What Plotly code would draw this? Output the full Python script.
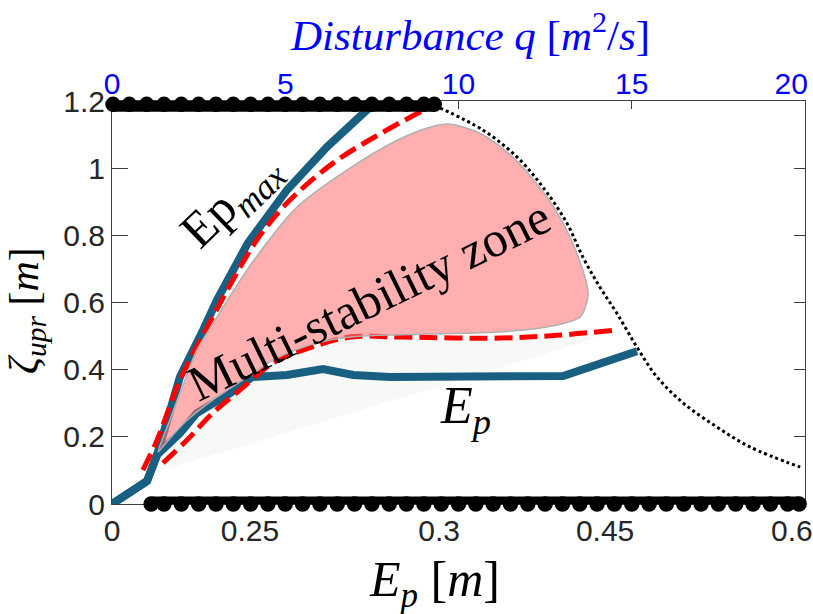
import plotly.graph_objects as go

# Horizontal coordinate: disturbance q [m^2/s]; vertical: zeta_upr [m]

# Upper limit branch Ep_max
epmax_q = [0.0, 1.01, 1.30, 1.96, 2.63, 3.03, 3.92, 5.05, 6.20, 7.36, 7.88]
epmax_z = [0.0, 0.068, 0.146, 0.378, 0.518, 0.607, 0.777, 0.935, 1.063, 1.173, 1.223]

# Lower branch Ep
ep_q = [0.0, 1.01, 1.30, 1.96, 2.45, 3.41, 4.04, 5.05, 6.09, 6.96, 8.02, 13.02, 15.15]
ep_z = [0.0, 0.068, 0.146, 0.211, 0.271, 0.330, 0.378, 0.384, 0.402, 0.384, 0.378, 0.381, 0.455]

# Red dashed bounds of the multi-stability region
red_up_q = [0.89, 1.30, 1.96, 2.83, 3.49, 4.18, 5.05, 6.38, 7.82, 8.89, 9.38]
red_up_z = [0.101, 0.190, 0.369, 0.542, 0.667, 0.786, 0.896, 1.015, 1.107, 1.167, 1.193]
red_lo_q = [1.47, 2.16, 2.91, 3.69, 4.65, 5.51, 6.87, 8.31, 11.2, 12.93, 14.57]
red_lo_z = [0.122, 0.190, 0.271, 0.339, 0.420, 0.458, 0.497, 0.497, 0.494, 0.503, 0.518]

# Dotted envelope
env_q = [9.47, 10.71, 11.69, 12.44, 13.13, 13.59, 14.08, 14.57, 15.15, 15.73, 16.48, 17.46, 18.41, 19.86]
env_z = [1.179, 1.113, 1.033, 0.943, 0.836, 0.735, 0.646, 0.568, 0.467, 0.378, 0.301, 0.229, 0.170, 0.110]

# Multi-stability zone outline
zone_q = [1.33, 1.67, 2.05, 2.45, 2.89, 3.46, 4.18, 5.34, 6.78, 8.23, 9.18, 9.75, 10.62, 11.57,
          12.55, 13.22, 13.65, 13.74, 13.51, 12.55, 11.11, 9.18, 7.24, 6.29, 5.34, 4.65, 3.90,
          2.91, 2.11, 1.56, 1.33]
zone_z = [0.155, 0.250, 0.354, 0.458, 0.533, 0.628, 0.738, 0.884, 0.994, 1.083, 1.122, 1.131,
          1.104, 1.033, 0.914, 0.795, 0.676, 0.622, 0.557, 0.527, 0.512, 0.506, 0.500, 0.488,
          0.461, 0.429, 0.378, 0.310, 0.244, 0.182, 0.155]

# Faint shaded band under the lower bound
band_q = [1.10, 1.47, 2.16, 2.91, 3.69, 4.65, 5.51, 6.87, 8.31, 11.2, 12.93, 14.1, 1.10]
band_z = [0.089, 0.122, 0.190, 0.271, 0.339, 0.420, 0.458, 0.497, 0.497, 0.494, 0.503, 0.497, 0.089]

# Stable states (upper and lower)
top_q = [0.03, 0.5, 1.0, 1.5, 2.0, 2.5, 3.0, 3.5, 4.0, 4.5, 5.0, 5.5, 6.0, 6.5, 7.0, 7.5,
         8.0, 8.5, 9.0, 9.3]
top_z = [1.19] * len(top_q)
bot_q = [1.13, 1.5, 2.0, 2.5, 3.0, 3.5, 4.0, 4.5, 5.0, 5.5, 6.0, 6.5, 7.0, 7.5, 8.0, 8.5,
         9.0, 9.5, 10.0, 10.5, 11.0, 11.5, 12.0, 12.5, 13.0, 13.5, 14.0, 14.5, 15.0, 15.5,
         16.0, 16.5, 17.0, 17.5, 18.0, 18.5, 19.0, 19.5, 19.83]
bot_z = [0.0] * len(bot_q)

# Axis ticks
ep_tick_pos = [0.0, 3.98, 9.44, 14.23, 19.62]
ep_tick_text = ["0", "0.25", "0.3", "0.45", "0.6"]
q_ticks = [0, 5, 10, 15, 20]
q_label_pos = [0, 5, 10, 15, 19.6]
q_label_text = ["0", "5", "10", "15", "20"]
z_ticks = [0, 0.2, 0.4, 0.6, 0.8, 1.0, 1.2]

BLUE = "#195f82"
AXC = "#404040"
TICKC = "#262626"
SERIF = "Liberation Serif"
SANS = "Liberation Sans"

fig = go.Figure()

fig.add_trace(go.Scatter(x=band_q, y=band_z, mode="lines", fill="toself",
                         fillcolor="#f6f9f6", line=dict(width=0), hoverinfo="skip"))

fig.add_trace(go.Scatter(x=env_q, y=env_z, mode="lines",
                         line=dict(color="black", width=3, dash="dot", shape="spline")))

fig.add_trace(go.Scatter(x=epmax_q, y=epmax_z, mode="lines",
                         line=dict(color=BLUE, width=8)))
fig.add_trace(go.Scatter(x=ep_q, y=ep_z, mode="lines",
                         line=dict(color=BLUE, width=8)))

fig.add_trace(go.Scatter(x=red_up_q, y=red_up_z, mode="lines",
                         line=dict(color="#ff0000", width=5, dash="18px,7px", shape="spline")))
fig.add_trace(go.Scatter(x=red_lo_q, y=red_lo_z, mode="lines",
                         line=dict(color="#ff0000", width=5, dash="18px,7px", shape="spline")))

fig.add_trace(go.Scatter(x=zone_q, y=zone_z, mode="lines", fill="toself",
                         fillcolor="rgba(255,110,110,0.55)",
                         line=dict(color="#b0b0b0", width=1.5, shape="spline", smoothing=0.8)))

fig.add_trace(go.Scatter(x=top_q, y=top_z, mode="lines+markers",
                         line=dict(color="black", width=15),
                         marker=dict(color="black", size=15.5), cliponaxis=False))
fig.add_trace(go.Scatter(x=bot_q, y=bot_z, mode="lines+markers",
                         line=dict(color="black", width=15),
                         marker=dict(color="black", size=15.5), cliponaxis=False))

# anchor traces for the top/right axes
for xa in ("x2", "x3"):
    fig.add_trace(go.Scatter(x=[0], y=[0], xaxis=xa, yaxis="y2", mode="markers",
                             marker=dict(opacity=0), hoverinfo="skip"))


def label(text, x, y, size, ref="data", angle=0, color="black"):
    xr, yr = ("x", "y") if ref == "data" else ("paper", "paper")
    return dict(text=text, x=x, y=y, xref=xr, yref=yr, xanchor="center", yanchor="middle",
                textangle=angle, showarrow=False,
                font=dict(family=SERIF, size=size, color=color))


annotations = [
    label("Multi-stability zone", 7.42, 0.607, 50, angle=-26),
    label("Ep<sub><i>max</i></sub>", 3.45, 0.90, 50, angle=-44),
    label("<i>E</i><sub><i>p</i></sub>", 10.19, 0.280, 52),
    label("<i>E</i><sub><i>p</i></sub> [<i>m</i>]", 0.466, -0.196, 50, ref="paper"),
    label("<i>Disturbance q</i> [<i>m</i><sup>2</sup>/<i>s</i>]", 0.517, 1.171, 43,
          ref="paper", color="#0000ff"),
    label("<i>ζ</i><sub><i>upr</i></sub> [<i>m</i>]", -0.123, 0.481, 42, ref="paper", angle=-90),
]

common = dict(showgrid=False, zeroline=False, automargin=False, linecolor=AXC, linewidth=1,
              showline=True, tickcolor=AXC, layer="below traces")

fig.update_layout(
    width=813, height=614,
    margin=dict(l=112, r=8, t=101, b=110, autoexpand=False),
    paper_bgcolor="white", plot_bgcolor="white",
    showlegend=False,
    annotations=annotations,
    xaxis=dict(range=[0, 20], tickvals=ep_tick_pos, ticktext=ep_tick_text, ticks="",
               tickfont=dict(family=SANS, size=30, color=TICKC),
               ticklabeloverflow="allow", **common),
    xaxis2=dict(range=[0, 20], overlaying="x", side="top", tickvals=q_ticks,
                ticks="inside", ticklen=8, showticklabels=False, **common),
    xaxis3=dict(range=[0, 20], overlaying="x", side="top", tickvals=q_label_pos,
                ticktext=q_label_text, ticks="", showgrid=False, zeroline=False,
                showline=False, automargin=False, ticklabeloverflow="allow",
                tickfont=dict(family=SANS, size=30, color="#0000ff")),
    yaxis=dict(range=[0, 1.2], tickvals=z_ticks, ticks="inside", ticklen=16,
               tickfont=dict(family=SANS, size=30, color=TICKC), **common),
    yaxis2=dict(range=[0, 1.2], overlaying="y", side="right", tickvals=z_ticks,
                ticks="inside", ticklen=11, showticklabels=False, **common),
)

fig.write_html("out.html")
